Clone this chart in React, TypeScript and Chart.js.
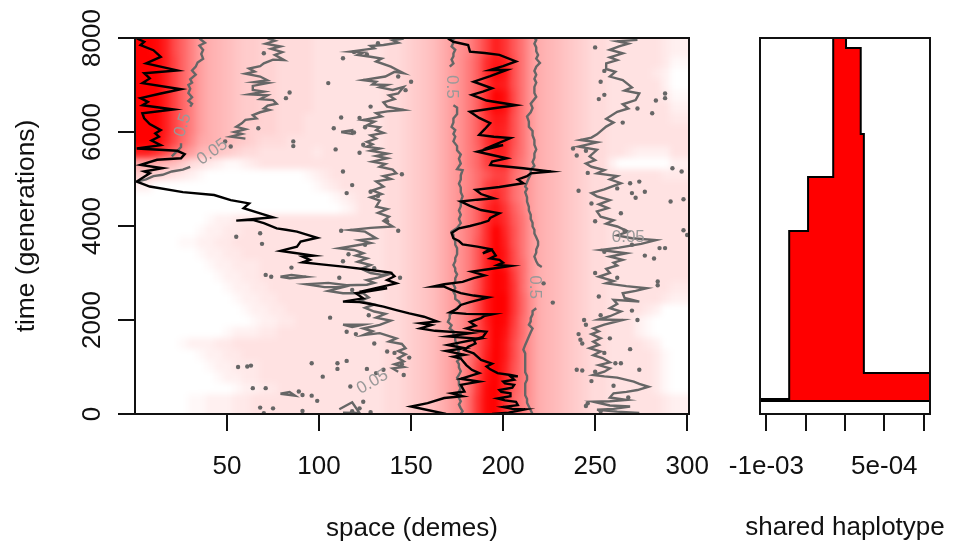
import React, { useEffect, useRef } from "react";
import { Chart, registerables } from "chart.js";

Chart.register(...registerables);

const spaceTicks = [50, 100, 150, 200, 250, 300];
const timeTicks = [0, 2000, 4000, 6000, 8000];
const shareTicks = [-1e-3, -5e-4, 0, 5e-4, 1e-3];
const shareLabels = ["-1e-03", "", "", "5e-04", ""];

// Heat values (base 36, 0 = white, z = red); 60 columns of 5 demes, 32 rows of 250 generations, top row first.
const heatLeft = [
  "zyvplhdba987766555544444", "zzvqlhdba987766555544444", "zzvqlhdba987766555544444", "zzvqlhdba987766555544444",
  "zzvqlhdba987766555544444", "zzvqlhdba987766555544444", "zzvqlhdba987766555444444", "zzvqlhdba987666555444444",
  "zzupkgcba987655544444444", "vtpkgda98765544444434444", "cba975432112344444444444", "765432100000000000123444",
  "200000000000000000012344", "000000000000000000000123", "000000000000000000000012", "000000012233344444444444",
  "000000122334444444444444", "000011223344444444444444", "000000122334444444444444", "000000012233344444444444",
  "000000001223344444444444", "000000000122334444444444", "000000000012233444444444", "000000000001223344444444",
  "000000000000122334444444", "000000000122233444444444", "000012223344444444444444", "000000122334444444444444",
  "000000012233344444444444", "000000001223344444444444", "000000000012233444444444", "000001122233444444444444",
];
const heatShoulder = "444556789bdf";
const heatPeak = [
  "hlqvsnjeba98", "imtwvojeba98", "imtywojeba98", "imswvojeba98",
  "imtzxpjeba98", "imuyxpjeba98", "imswvojeba98", "imsvuojeba98",
  "imswuojeba98", "ilrvunjeba98", "ilqstmieba98", "hknqqkhdba98",
  "hkqsqkhdba98", "imruqkhdba98", "imtwsmidba98", "imtwtnjeba98",
  "imtzuojeba98", "intzvojeba98", "inuzwpjeba98", "inuzwpkeba98",
  "iovzyrkeba98", "jovzyskeba98", "jpwzzslfba98", "jpwzzslfba98",
  "jovzyrkfba98", "jouzxqkeba98", "jouzwpjeba98", "jovzwpjeba98",
  "jqwzvojeba98", "jqxzunjeba98", "jryzumjeba98", "ksyzslieba98",
];
const heatRight = [
  "765544444432", "765544444431", "765544444320", "765544444420",
  "765544444431", "765544444442", "765544444443", "765544444444",
  "765544444444", "765544322224", "765520000002", "765544444433",
  "765544444444", "765544444444", "765544444444", "765544444444",
  "765544444444", "765544444444", "765544444444", "765544444444",
  "765544444444", "765544444443", "765544444432", "765544443200",
  "765544421000", "765544421000", "765544443200", "765544444310",
  "765544444310", "765544444310", "765544444310", "765544444432",
];

// Lineage A, bottom to top: [deme, generation]
const lineageA = [
  [194,0],[203,30],[212,100],[205,110],[200,150],[208,190],[207,260],[201,290],[197,330],[204,380],[204,440],[199,470],[198,510],[205,560],[206,620],[201,650],[200,690],[206,730],[204,800],[208,800],[204,830],[197,870],[193,950],[191,1010],[194,1070],[188,1150],[186,1220],[184,1290],[179,1360],[181,1430],[185,1500],[184,1580],[189,1640],[191,1750],[184,1780],[180,1820],[185,1880],[182,1960],[188,2040],[190,2090],[194,2120],[180,2130],[171,2160],[175,2240],[177,2320],[182,2380],[192,2480],[184,2520],[177,2570],[172,2640],[168,2710],[162,2710],[168,2760],[178,2810],[184,2890],[190,2950],[183,3030],[192,3080],[204,3150],[197,3170],[200,3220],[198,3280],[193,3310],[196,3370],[194,3490],[189,3420],[193,3510],[186,3560],[178,3610],[176,3680],[173,3740],[172,3850],[176,3950],[182,4000],[188,4060],[192,4110],[193,4170],[198,4270],[188,4340],[182,4430],[177,4520],[186,4560],[195,4590],[188,4680],[185,4770],[198,4830],[211,4910],[208,4990],[213,5060],[215,5120],[226,5160],[211,5230],[193,5300],[194,5370],[202,5440],[194,5510],[186,5580],[193,5650],[200,5720],[193,5690],[204,5870],[195,5900],[187,5940],[190,6060],[193,6190],[187,6300],[182,6430],[194,6500],[207,6570],[191,6670],[183,6790],[189,6860],[194,6930],[184,7070],[193,7190],[202,7320],[193,7320],[200,7400],[207,7500],[198,7640],[190,7680],[182,7710],[181,7850],[173,7920],[170,7990],
];
// Lineage B, bottom to top
const lineageB = [
  [169,0],[150,160],[159,230],[168,340],[178,380],[172,440],[179,480],[177,620],[187,690],[177,750],[187,870],[183,940],[180,1040],[177,1180],[173,1220],[179,1260],[169,1340],[179,1400],[170,1470],[187,1600],[170,1650],[182,1720],[163,1770],[155,1820],[161,1890],[155,1930],[164,1970],[157,2070],[149,2140],[142,2210],[135,2285],[128,2340],[122,2380],[113,2390],[124,2460],[120,2570],[137,2675],[122,2600],[142,2780],[137,2850],[141,2930],[139,3010],[125,3080],[113,3135],[100,3190],[91,3228],[95,3280],[91,3350],[97,3370],[86,3430],[79,3470],[88,3560],[90,3670],[99,3750],[88,3880],[82,3920],[77,3950],[70,4060],[64,4130],[55,4115],[75,4185],[68,4270],[59,4380],[62,4480],[52,4550],[43,4660],[26,4720],[8,4840],[1,4945],[5,5050],[8,5120],[5,5160],[15,5230],[3,5300],[12,5410],[25,5440],[27,5530],[23,5600],[1,5650],[14,5720],[9,5820],[13,5900],[11,5970],[14,6040],[8,6170],[5,6290],[4,6400],[21,6480],[4,6570],[7,6640],[3,6720],[14,6820],[25,6910],[4,7040],[8,7140],[5,7250],[23,7310],[6,7460],[14,7600],[10,7740],[3,7850],[5,7920],[1,7990],
];

// Contour lines of level 0.5
const half1 = [[177,0],[178,60],[177,120],[176,200],[177,270],[176,340],[177,420],[176,480],[177,550],[176,620],[176,700],[175,770],[176,830],[177,910],[176,990],[176,1060],[175,1120],[177,1200],[175,1280],[176,1340],[175,1400],[175,1480],[174,1560],[174,1620],[173,1680],[173,1760],[171,1820],[172,1890],[170,1960],[171,2040],[171,2110],[173,2180],[175,2260],[177,2320],[176,2390],[174,2450],[174,2530],[173,2600],[174,2680],[173,2760],[174,2820],[174,2890],[175,2970],[174,3040],[174,3100],[173,3170],[174,3250],[174,3320],[175,3400],[175,3470],[175,3530],[174,3600],[174,3680],[173,3750],[173,3810],[172,3880],[175,3960],[177,4060],[176,4150],[177,4240],[176,4330],[177,4420],[177,4520],[178,4630],[177,4720],[177,4820],[176,4900],[177,4990],[177,5080],[178,5190],[175,5210],[177,5330],[176,5430],[177,5520],[175,5610],[175,5700],[173,5800],[174,5900],[173,5960],[174,6040],[172,6110],[173,6200],[173,6290],[175,6380],[175,6470],[175,6520],[173,6570]];
const half1b = [[171,7390],[173,7460],[172,7540],[173,7610],[173,7670],[174,7750],[172,7820],[173,7900],[172,7960],[174,8000]];
const half2 = [[216,0],[215,80],[214,160],[213,240],[213,320],[212,400],[212,480],[212,560],[212,650],[213,730],[213,810],[212,890],[212,970],[212,1050],[212,1130],[212,1210],[212,1290],[211,1370],[212,1470],[213,1560],[214,1650],[215,1740],[216,1820],[214,1900],[215,1970],[215,2040],[216,2120],[216,2190],[218,2250]];
const half2b = [[221,3130],[219,3180],[218,3250],[217,3350],[218,3430],[218,3500],[219,3590],[219,3670],[218,3760],[217,3840],[217,3920],[216,3990],[216,4070],[215,4150],[215,4240],[214,4330],[214,4410],[213,4520],[213,4610],[212,4720],[213,4790],[212,4840],[213,4930],[214,5020],[215,5100],[215,5190],[217,5280],[216,5360],[217,5450],[217,5540],[218,5630],[217,5730],[217,5830],[216,5930],[216,6020],[214,6110],[214,6220],[213,6330],[215,6420],[216,6510],[215,6600],[218,6750],[217,6830],[217,6900],[217,6960],[218,7050],[217,7130],[218,7220],[217,7300],[218,7390],[220,7470],[218,7560],[219,7640],[218,7720],[218,7800],[217,7880],[218,7960],[217,8000]];
const half3 = [[35,7990],[38,7900],[35,7840],[37,7745],[36,7660],[37,7560],[34,7480],[33,7390],[31,7310],[33,7220],[30,7120],[31,7050],[29,7000],[30,6920],[29,6830],[31,6740],[29,6660],[31,6600],[30,6540]];
const half3b = [[25,5760],[25,5680],[23,5600],[20,5480]];
// Contour lines of level 0.05
const tiny1 = [[72,7990],[76,7940],[71,7880],[79,7820],[74,7770],[80,7700],[76,7640],[81,7530],[75,7540],[70,7460],[68,7400],[62,7350],[65,7285],[60,7240],[68,7180],[72,7100],[65,7060],[72,7040],[64,6980],[64,6895],[70,6860],[62,6800],[72,6780],[68,6700],[75,6680],[77,6600],[72,6560],[70,6500],[73,6470],[68,6420],[64,6360],[66,6290],[60,6260],[58,6185],[55,6110],[60,6060],[54,6000],[58,5960],[52,5900],[60,5860]];
const tiny1b = [[30,5260],[26,5200],[20,5160],[15,5090],[10,5060],[6,4990],[1,4945]];
const tiny2 = [[146,7990],[140,7950],[143,7900],[135,7850],[128,7830],[130,7780],[117,7710],[124,7690],[121,7640],[128,7600],[134,7560],[131,7500],[139,7390],[142,7330],[146,7250],[141,7280],[136,7180],[124,7105],[131,7070],[129,7010],[137,7000],[133,6950],[140,6895],[146,6960],[143,6820],[138,6780],[141,6700],[135,6630],[137,6540],[146,6470],[137,6440],[131,6400],[134,6330],[124,6255],[130,6220],[126,6140],[133,6100],[131,6040],[135,5980],[128,5930],[131,5860],[126,5790],[129,5740],[126,5690],[133,5650],[128,5600],[137,5540],[131,5490],[137,5440],[129,5370],[136,5320],[133,5260],[140,5200],[142,5120],[135,5060],[139,5000],[131,4950],[135,4840],[129,4760],[134,4680],[128,4610],[133,4540],[131,4410],[137,4360],[132,4280],[138,4200],[135,4110],[140,3990],[128,3960],[117,3915],[125,3880],[131,3740],[122,3700],[128,3640],[111,3525],[119,3490],[124,3420],[120,3370],[126,3310],[121,3240],[128,3170],[123,3090],[128,3000],[134,2960],[140,3000],[132,2900],[126,2850],[130,2790],[126,2750],[115,2740],[105,2790],[93,2760],[103,2700],[113,2700],[105,2620],[113,2570],[124,2570],[127,2480],[122,2400],[130,2330],[125,2260],[130,2180],[136,2130],[131,2050],[139,1985],[133,1895],[124,1820],[129,1760],[124,1680],[133,1720],[142,1610],[138,1540],[145,1490],[147,1400],[143,1340],[147,1270],[143,1190],[146,1120],[141,1060],[146,1000],[140,970],[143,900]];
const tiny3 = [[274,20],[262,50],[251,90],[260,110],[269,160],[258,180],[249,260],[258,270],[267,300],[258,350],[260,440],[267,470],[273,510],[279,580],[274,640],[271,690],[262,775],[255,800],[249,830],[255,900],[258,970],[252,1040],[258,1100],[254,1190],[249,1250],[253,1330],[247,1400],[252,1470],[249,1540],[253,1610],[248,1700],[252,1760],[249,1820],[255,1900],[265,2000],[252,2010],[258,2080],[264,2180],[258,2250],[262,2340],[260,2430],[268,2410],[274,2390],[266,2470],[265,2570],[272,2620],[278,2675],[267,2720],[256,2780],[260,2830],[252,2920],[258,3000],[256,3090],[262,3160],[260,3220],[265,3280],[258,3350],[267,3420],[253,3490],[263,3540],[275,3620],[283,3700],[270,3740],[262,3800],[268,3880],[262,3990],[256,4050],[260,4120],[253,4200],[251,4310],[257,4380],[252,4460],[258,4550],[251,4630],[248,4700],[255,4780],[264,4910],[258,4990],[262,5060],[251,5120],[255,5190],[248,5260],[245,5330],[250,5400],[247,5480],[251,5620],[241,5690],[251,5780],[242,5830],[248,5880],[251,5950],[256,6115],[260,6200],[256,6280],[262,6430],[268,6500],[265,6590],[272,6680],[274,6820],[266,6880],[270,6950],[265,7105],[258,7180],[261,7280],[256,7340],[256,7460],[262,7530],[258,7590],[265,7675],[258,7750],[263,7820],[268,7880],[262,7930],[273,7960]];
const blob1 = [[79,2920],[85,2960],[93,2920],[84,2890],[79,2920]];
const blob2 = [[79,430],[87,390],[84,470],[79,430]];
const blob3 = [[111,100],[118,250],[122,20],[113,30]];
const blob4 = [[113,1900],[124,1900],[118,1850],[113,1900]];
const blob5 = [[112,6000],[118,6040],[118,5960],[112,6000]];

// Isolated contour specks
const specks = [[105,7040],[84,6840],[112,6310],[108,6080],[86,5800],[86,5700],[109,5630],[113,5160],[118,4870],[115,4700],[128,4730],[150,7070],[113,7570],[132,7890],[70,7675],[82,6720],[67,6080],[52,5690],[49,5800],[288,6820],[288,6720],[283,6670],[281,6400],[253,7070],[255,6790],[241,4750],[269,4910],[274,4945],[270,4700],[277,4730],[292,5230],[297,5160],[291,4520],[298,4570],[264,4270],[55,3770],[68,3845],[69,3620],[85,3115],[71,2960],[74,2920],[106,2050],[56,1000],[61,1010],[63,1030],[96,1080],[110,1080],[115,1130],[110,960],[126,960],[102,795],[71,550],[64,550],[68,136],[75,120],[91,65],[70,16],[89,480],[91,405],[96,390],[99,280],[137,1330],[131,870],[135,940],[146,830],[117,585],[124,260],[227,2370],[222,2780],[284,2820],[284,2740],[252,2500],[244,2000],[273,2000],[269,1380],[242,1580],[258,1610],[240,940],[243,925],[274,940],[264,1080],[261,1080],[246,230],[300,3810],[298,3910],[288,3530],[285,3530],[282,3310],[277,3370],[119,7700],[126,7650],[143,7180],[147,6890],[128,6540],[122,6300],[125,6100],[119,5990],[124,5730],[122,5560],[145,5100],[132,4640],[137,4100],[143,3900],[112,3900],[125,3600],[116,3400],[113,3250],[130,3100],[144,2900],[118,2640],[111,2900],[127,2100],[120,1700],[115,1750],[130,1500],[141,1300],[149,1200],[145,1060],[122,120],[118,60],[128,40],[250,7800],[255,7300],[265,6200],[252,6700],[273,6500],[245,5600],[240,5500],[238,5650],[246,5130],[262,4800],[272,4600],[250,4100],[248,4480],[266,3900],[270,3600],[255,3450],[250,3000],[262,2900],[270,2200],[253,2100],[245,1900],[241,1700],[243,1500],[255,1300],[250,900],[248,700],[260,600],[268,350],[245,170],[253,60]];

// Contour labels: text, deme, generation, rotation in degrees
const labelTexts = ["0.5", "0.05", "0.5", "0.5", "0.05", "0.05"];
const labelDemes = [26, 42, 172, 217, 268, 129];
const labelTimes = [6150, 5575, 6960, 2700, 3750, 680];
const labelAngles = [-72, -35, 90, 90, 0, -30];

// Right panel: outline of the shared-haplotype step polygon
const shareX = [-1.4e-3, 1.4e-3, 1.4e-3, 2.4e-4, 2.4e-4, 2.0e-4, 2.0e-4, 1.3e-5, 1.3e-5, -1.5e-4, -1.5e-4, -4.7e-4, -4.7e-4, -7.1e-4, -7.1e-4, -1.4e-3, -1.4e-3];
const shareT = [277, 277, 872, 872, 5957, 5957, 7787, 7787, 8400, 8400, 5043, 5043, 3894, 3894, 319, 319, 277];

const FONT = "'Liberation Sans', Arial, sans-serif";
const INK = "#111111";
const GREY = "#666666";

const toPts = (a: number[][]) => a.map(([x, y]) => ({ x, y }));

const heatCells = () => {
  const cells: { x: number; y: number; c: string }[] = [];
  for (let r = -3; r <= 34; r++) {
    for (let c = -4; c <= 63; c++) {
      const rr = Math.min(31, Math.max(0, r));
      const cc = Math.min(59, Math.max(0, c));
      const row = heatLeft[rr] + heatShoulder + heatPeak[rr] + heatRight[rr];
      const v = parseInt(row[cc], 36) / 35;
      const g = Math.round(255 * (1 - v));
      cells.push({ x: c * 5 + 3.3, y: 8000 - (r + 0.5) * 250, c: `rgb(255,${g},${g})` });
    }
  }
  return cells;
};

const boxPlugin = {
  id: "box",
  afterDatasetsDraw(chart: any) {
    const { ctx, chartArea: a } = chart;
    ctx.save();
    ctx.strokeStyle = INK;
    ctx.lineWidth = 2;
    ctx.strokeRect(a.left, a.top, a.right - a.left, a.bottom - a.top);
    ctx.restore();
  },
};

const contourLabels = {
  id: "contourLabels",
  afterDatasetsDraw(chart: any) {
    const { ctx, scales } = chart;
    labelTexts.forEach((t, i) => {
      ctx.save();
      ctx.translate(scales.x.getPixelForValue(labelDemes[i]), scales.y.getPixelForValue(labelTimes[i]));
      ctx.rotate((labelAngles[i] * Math.PI) / 180);
      ctx.font = `17px ${FONT}`;
      ctx.fillStyle = "#999999";
      ctx.textAlign = "center";
      ctx.textBaseline = "middle";
      ctx.fillText(t, 0, 0);
      ctx.restore();
    });
  },
};

const sharedTitle = {
  id: "sharedTitle",
  afterDraw(chart: any) {
    const { ctx, chartArea: a } = chart;
    ctx.save();
    ctx.font = `26px ${FONT}`;
    ctx.fillStyle = INK;
    ctx.textAlign = "center";
    ctx.textBaseline = "middle";
    ctx.fillText("shared haplotype", (a.left + a.right) / 2, 528);
    ctx.restore();
  },
};

const axisGrid = { drawOnChartArea: false, drawTicks: true, tickLength: 17, lineWidth: 2, color: INK };
const font = { family: FONT, size: 26 };

const line = (data: number[][], color: string, order: number, width: number) => ({
  label: "line",
  data: toPts(data),
  showLine: true,
  borderColor: color,
  borderWidth: width,
  pointRadius: 0,
  tension: 0,
  fill: false,
  order,
});

export default function App() {
  const heatRef = useRef<HTMLCanvasElement>(null);
  const leftRef = useRef<HTMLCanvasElement>(null);
  const rightRef = useRef<HTMLCanvasElement>(null);

  useEffect(() => {
    const cells = heatCells();
    const heat = new Chart(heatRef.current as HTMLCanvasElement, {
      type: "scatter",
      data: {
        datasets: [
          {
            label: "heat",
            data: cells,
            pointStyle: "rect",
            pointRadius: 8.7,
            pointBorderWidth: 0,
            pointBackgroundColor: cells.map((c) => c.c),
            pointBorderColor: "rgba(0,0,0,0)",
            showLine: false,
          },
        ],
      } as any,
      options: {
        animation: false,
        responsive: false,
        events: [],
        layout: { padding: 0 },
        plugins: { legend: { display: false }, tooltip: { enabled: false }, title: { display: false } },
        scales: {
          x: { type: "linear", min: -10.87, max: 311.87, display: false },
          y: { type: "linear", min: -425.5, max: 8425.5, display: false },
        },
      } as any,
    });

    const left = new Chart(leftRef.current as HTMLCanvasElement, {
      type: "scatter",
      data: {
        datasets: [
          ...[half1, half1b, half2, half2b, half3, half3b, tiny1, tiny1b, tiny2, tiny3, blob1, blob2, blob3, blob4, blob5].map((d) => line(d, GREY, 5, 2.4)),
          {
            label: "specks",
            data: toPts(specks),
            showLine: false,
            pointRadius: 2.2,
            pointBorderWidth: 0,
            pointBackgroundColor: GREY,
            order: 4,
          },
          line(lineageA, "#000000", 1, 2.4),
          line(lineageB, "#000000", 1, 2.4),
        ],
      } as any,
      plugins: [boxPlugin, contourLabels],
      options: {
        animation: false,
        responsive: false,
        events: [],
        layout: { padding: { left: 0, right: 268, top: 38, bottom: 0 } },
        plugins: { legend: { display: false }, tooltip: { enabled: false }, title: { display: false } },
        scales: {
          x: {
            type: "linear",
            min: 0,
            max: 301,
            afterBuildTicks: (s: any) => { s.ticks = spaceTicks.map((value) => ({ value })); },
            afterFit: (s: any) => { s.height = 130; },
            grid: axisGrid,
            border: { display: true, color: INK, width: 2 },
            ticks: { color: INK, font, padding: 20, autoSkip: false, maxRotation: 0, callback: (v: any) => String(v) },
            title: { display: true, text: "space (demes)", color: INK, font, padding: { top: 0, bottom: 0 } },
          },
          y: {
            type: "linear",
            min: 0,
            max: 8000,
            afterBuildTicks: (s: any) => { s.ticks = timeTicks.map((value) => ({ value })); },
            afterFit: (s: any) => { s.width = 135; },
            grid: axisGrid,
            border: { display: true, color: INK, width: 2 },
            ticks: { color: INK, font, padding: -4, autoSkip: false, minRotation: 90, maxRotation: 90, crossAlign: "center", callback: (v: any) => String(v) },
            title: { display: true, text: "time (generations)", color: INK, font: { family: FONT, size: 26.4 }, padding: { top: 11, bottom: 0 } },
          },
        },
      } as any,
    });

    const right = new Chart(rightRef.current as HTMLCanvasElement, {
      type: "scatter",
      data: {
        datasets: [
          {
            label: "shared",
            data: shareX.map((x, i) => ({ x, y: shareT[i] })),
            showLine: true,
            pointRadius: 0,
            borderColor: "#000000",
            borderWidth: 2,
            backgroundColor: "#ff0000",
            tension: 0,
            fill: "shape",
          },
        ],
      } as any,
      plugins: [boxPlugin, sharedTitle],
      options: {
        animation: false,
        responsive: false,
        events: [],
        layout: { padding: { left: 760, right: 27, top: 38, bottom: 0 } },
        plugins: { legend: { display: false }, tooltip: { enabled: false }, title: { display: false } },
        scales: {
          x: {
            type: "linear",
            min: -1.0815e-3,
            max: 1.0815e-3,
            afterBuildTicks: (s: any) => { s.ticks = shareTicks.map((value) => ({ value })); },
            afterFit: (s: any) => { s.height = 130; },
            grid: axisGrid,
            border: { display: true, color: INK, width: 2 },
            ticks: { color: INK, font, padding: 20, autoSkip: false, maxRotation: 0, callback: (_: any, i: number) => shareLabels[i] },
          },
          y: { type: "linear", min: 0, max: 8000, display: false },
        },
      } as any,
    });

    return () => {
      heat.destroy();
      left.destroy();
      right.destroy();
    };
  }, []);

  const style: React.CSSProperties = { position: "absolute", left: 0, top: 0 };
  return (
    <div style={{ position: "absolute", left: 0, top: 0, width: 957, height: 544, background: "#fff" }}>
      <div style={{ position: "absolute", left: 135, top: 38, width: 554, height: 376, overflow: "hidden" }}>
        <canvas ref={heatRef} width={594} height={416} style={{ position: "absolute", left: -20, top: -20, filter: "blur(3px)" }} />
      </div>
      <canvas ref={leftRef} width={957} height={544} style={style} />
      <canvas ref={rightRef} width={957} height={544} style={style} />
    </div>
  );
}
